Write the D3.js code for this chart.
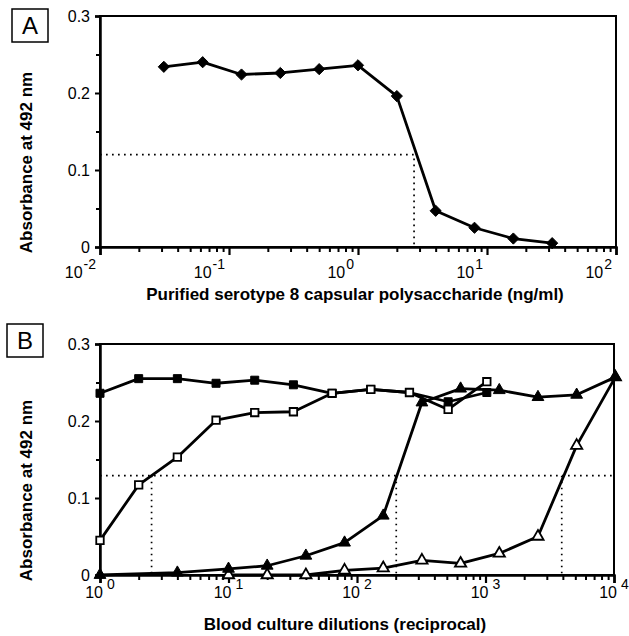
<!DOCTYPE html>
<html>
<head>
<meta charset="utf-8">
<script src="https://cdn.jsdelivr.net/npm/d3@7"></script>
<style>
  body { margin: 0; background: #fff; }
  svg { display: block; font-family: "Liberation Sans", Arial, sans-serif; }
</style>
</head>
<body>
<svg id="chart" width="629" height="636"></svg>
<script>
// Panel A: purified serotype 8 capsular polysaccharide (ng/ml)
const concA = [0.03125, 0.0625, 0.125, 0.25, 0.5, 1, 2, 4, 8, 16, 32];
const absA = [0.234, 0.240, 0.224, 0.226, 0.231, 0.236, 0.196, 0.047, 0.025, 0.011, 0.005];
const cutoffA = { y: 0.120, x: 2.72 };

// Panel B: blood culture dilutions (reciprocal)
const dilSq = [1, 2, 4, 8, 16, 32, 64, 128, 256, 512, 1024];
const filledSq = [0.236, 0.255, 0.255, 0.249, 0.253, 0.247, 0.236, 0.241, 0.237, 0.225, 0.237];
const openSq = [0.045, 0.117, 0.153, 0.201, 0.211, 0.212, 0.236, 0.241, 0.237, 0.215, 0.251];
const dilFilledTri = [1, 4, 10, 20, 40, 80, 160, 320, 640, 1280, 2560, 5120, 10240];
const filledTri = [0, 0.003, 0.008, 0.012, 0.025, 0.042, 0.077, 0.224, 0.242, 0.240, 0.231, 0.234, 0.257];
const dilOpenTri = [10, 20, 40, 80, 160, 320, 640, 1280, 2560, 5120, 10240];
const openTri = [0, 0, 0, 0.006, 0.009, 0.019, 0.015, 0.028, 0.050, 0.168, 0.257];
const cutoffB = { y: 0.129, xs: [2.52, 202, 3920] };

const yTicks = [0, 0.1, 0.2, 0.3];
const yMinor = [0.05, 0.15, 0.25];

const svg = d3.select("#chart");

function drawPanel(opt) {
  const x = d3.scaleLog().domain(opt.xDomain).range([opt.left, opt.right]);
  const y = d3.scaleLinear().domain([0, 0.3]).range([opt.bottom, opt.top]);
  const g = svg.append("g");

  // frame
  g.append("rect")
    .attr("x", opt.left).attr("y", opt.top)
    .attr("width", opt.right - opt.left).attr("height", opt.bottom - opt.top)
    .attr("fill", "none").attr("stroke", "#000").attr("stroke-width", 2);

  // y axis
  const ya = g.append("g")
    .attr("transform", `translate(${opt.left},0)`)
    .call(d3.axisLeft(y).tickValues(yTicks).tickSize(5).tickPadding(5).tickFormat(d3.format("")));
  ya.select(".domain").attr("stroke-width", 2.5);
  ya.selectAll(".tick line").attr("stroke-width", 2);
  ya.selectAll("text").attr("font-size", 16).attr("fill", "#000");
  g.append("g")
    .attr("transform", `translate(${opt.left},0)`)
    .call(d3.axisLeft(y).tickValues(yMinor).tickSize(4).tickFormat(""))
    .call(s => s.select(".domain").remove())
    .selectAll("line").attr("stroke-width", 2);

  // x axis, major + minor ticks
  const [lo, hi] = opt.xDomain.map(Math.log10);
  const major = d3.range(lo, hi + 1).map(e => Math.pow(10, e));
  const minor = [];
  major.slice(0, -1).forEach(m => { for (let k = 2; k < 10; k++) minor.push(m * k); });
  const xa = g.append("g")
    .attr("transform", `translate(0,${opt.bottom})`)
    .call(d3.axisBottom(x).tickValues(major).tickSize(8).tickFormat(""));
  xa.select(".domain").attr("stroke-width", 2.5);
  xa.selectAll(".tick line").attr("stroke-width", 2.2);
  g.append("g")
    .attr("transform", `translate(0,${opt.bottom})`)
    .call(d3.axisBottom(x).tickValues(minor).tickSize(5).tickFormat(""))
    .call(s => s.select(".domain").remove())
    .selectAll("line").attr("stroke-width", 2);

  // tick labels 10^n
  major.forEach(v => {
    const e = Math.round(Math.log10(v));
    const t = g.append("text")
      .attr("x", x(v) + opt.labelDx)
      .attr("y", opt.bottom + opt.labelDy)
      .attr("text-anchor", opt.labelAnchor)
      .attr("font-size", 16);
    t.append("tspan").text("10");
    t.append("tspan").attr("dx", opt.expGap).attr("dy", -9).attr("font-size", 14).text(String(e));
  });

  // axis titles
  g.append("text")
    .attr("transform", `translate(${opt.yTitleX},${(opt.top + opt.bottom) / 2 + 31}) rotate(-90)`)
    .attr("text-anchor", "middle")
    .attr("font-size", 17).attr("font-weight", "bold")
    .text("Absorbance at 492 nm");
  g.append("text")
    .attr("x", opt.xTitleX).attr("y", opt.xTitleY)
    .attr("text-anchor", "middle")
    .attr("font-size", 17).attr("font-weight", "bold")
    .text(opt.xTitle);

  // panel letter
  g.append("rect")
    .attr("x", opt.box[0]).attr("y", opt.box[1])
    .attr("width", 36).attr("height", 33)
    .attr("fill", "none").attr("stroke", "#000").attr("stroke-width", 1.5);
  g.append("text")
    .attr("x", opt.box[0] + 18).attr("y", opt.box[1] + 25)
    .attr("text-anchor", "middle").attr("font-size", 24)
    .text(opt.letter);

  return { g, x, y };
}

function dotted(g, pts) {
  g.append("path")
    .attr("d", d3.line()(pts))
    .attr("fill", "none").attr("stroke", "#000")
    .attr("stroke-width", 1.7).attr("stroke-dasharray", "1.7,4.3");
}

function series(p, xs, ys, symbol, size, filled) {
  const pts = xs.map((d, i) => [p.x(d), p.y(ys[i])]);
  p.g.append("path")
    .attr("d", d3.line()(pts))
    .attr("fill", "none").attr("stroke", "#000")
    .attr("stroke-width", 2.8).attr("stroke-linejoin", "round");
  p.g.selectAll(null).data(pts).enter().append("path")
    .attr("transform", d => `translate(${d[0]},${d[1]})`)
    .attr("d", d3.symbol().type(symbol).size(size))
    .attr("fill", filled ? "#000" : "#fff")
    .attr("stroke", "#000").attr("stroke-width", filled ? 1 : 1.8);
}

// ---- Panel A
const A = drawPanel({
  xDomain: [0.01, 100], left: 100, right: 616, top: 16, bottom: 247,
  labelAnchor: "end", labelDx: -4, labelDy: 31, expGap: 1,
  yTitleX: 32, xTitleX: 355, xTitleY: 300,
  xTitle: "Purified serotype 8 capsular polysaccharide (ng/ml)",
  box: [12, 9], letter: "A"
});
dotted(A.g, [[A.x(0.01), A.y(cutoffA.y)], [A.x(cutoffA.x), A.y(cutoffA.y)], [A.x(cutoffA.x), A.y(0)]]);
series(A, concA, absA, d3.symbolDiamond2, 80, true);

// ---- Panel B
const B = drawPanel({
  xDomain: [1, 10000], left: 100, right: 614, top: 344, bottom: 575,
  labelAnchor: "middle", labelDx: 0, labelDy: 23, expGap: 4,
  yTitleX: 32, xTitleX: 345, xTitleY: 630,
  xTitle: "Blood culture dilutions (reciprocal)",
  box: [7, 324], letter: "B"
});
dotted(B.g, [[B.x(1), B.y(cutoffB.y)], [B.x(10000), B.y(cutoffB.y)]]);
cutoffB.xs.forEach(v => dotted(B.g, [[B.x(v), B.y(cutoffB.y)], [B.x(v), B.y(0)]]));
series(B, dilSq, filledSq, d3.symbolSquare, 64, true);
series(B, dilSq, openSq, d3.symbolSquare, 56, false);
series(B, dilOpenTri, openTri, d3.symbolTriangle, 55, false);
series(B, dilFilledTri, filledTri, d3.symbolTriangle, 60, true);
</script>
</body>
</html>
